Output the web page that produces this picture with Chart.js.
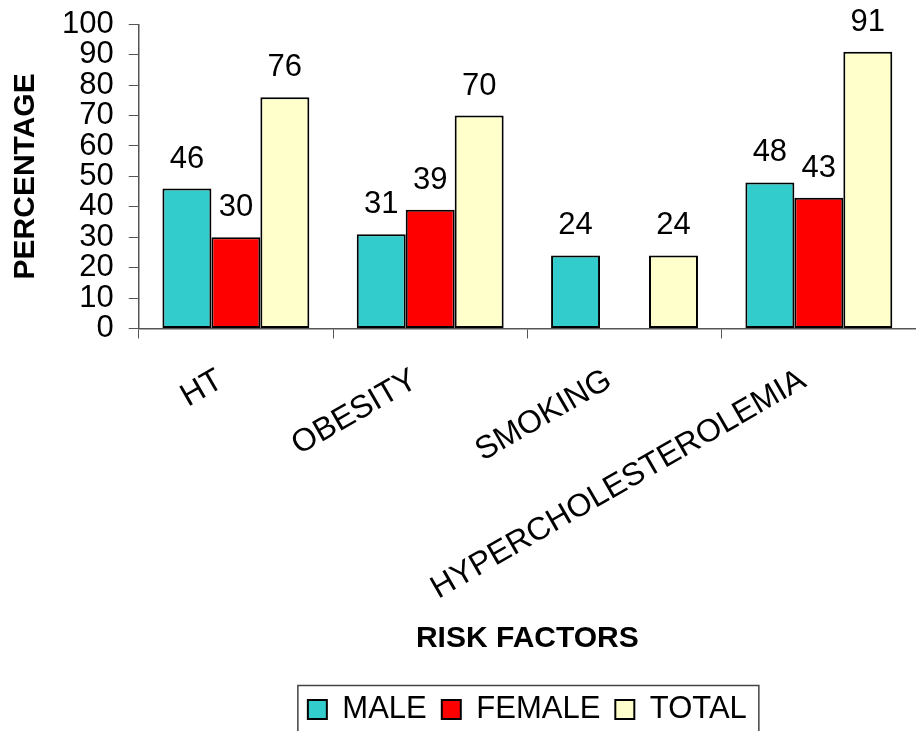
<!DOCTYPE html>
<html>
<head>
<meta charset="utf-8">
<title>Risk factors</title>
<script src="https://cdn.jsdelivr.net/npm/chart.js@4.4.1/dist/chart.umd.min.js"></script>
<style>
    html, body { margin: 0; padding: 0; background: #fff; }
    #wrap { width: 916px; height: 731px; }
</style>
</head>
<body>
<div id="wrap"><canvas id="riskChart" width="916" height="731"></canvas></div>
<script>
'use strict';

var categories   = ['HT', 'OBESITY', 'SMOKING', 'HYPERCHOLESTEROLEMIA'];
var maleValues   = [46, 31, 24, 48];
var femaleValues = [30, 39, null, 43];
var totalValues  = [76, 70, 24, 91];
var seriesNames  = ['MALE', 'FEMALE', 'TOTAL'];

var FONT = "'Liberation Sans', Arial, sans-serif";
var AXIS_COLOR = '#555';

/**
 * Draw the value above each bar.
 */
var valueLabels = {
    id: 'valueLabels',
    afterDatasetsDraw: function(chart) {
        var ctx = chart.ctx;
        ctx.save();
        ctx.font = '31px ' + FONT;
        ctx.fillStyle = '#000';
        ctx.textAlign = 'center';
        ctx.textBaseline = 'alphabetic';
        chart.data.datasets.forEach(function(ds, i) {
            var meta = chart.getDatasetMeta(i);
            meta.data.forEach(function(bar, j) {
                var v = ds.data[j];
                if (v === null || v === undefined) return;
                ctx.fillText(String(v), bar.x, bar.y - 21);
            });
        });
        ctx.restore();
    }
};

/**
 * Frame around the legend, like the original.
 */
var legendFrame = {
    id: 'legendFrame',
    afterDraw: function(chart) {
        var boxes = chart.legend && chart.legend.legendHitBoxes;
        if (!boxes || !boxes.length) return;
        var minX = Infinity, maxX = -Infinity, cy = boxes[0].top + boxes[0].height / 2;
        boxes.forEach(function(b) {
            minX = Math.min(minX, b.left);
            maxX = Math.max(maxX, b.left + b.width);
        });
        var ctx = chart.ctx;
        ctx.save();
        ctx.strokeStyle = '#444';
        ctx.lineWidth = 1.5;
        ctx.strokeRect(minX - 10, cy - 24, (maxX - minX) + 22, 60);
        ctx.restore();
    }
};

function makeDataset(label, data, color) {
    return {
        label: label,
        data: data,
        backgroundColor: color,
        borderColor: '#000',
        borderWidth: 2,
        borderSkipped: false,
        categoryPercentage: 0.756,
        barPercentage: 1.0
    };
}

var ctx = document.getElementById('riskChart').getContext('2d');
var chart = new Chart(ctx, {
    type: 'bar',
    data: {
        labels: categories,
        datasets: [
            makeDataset(seriesNames[0], maleValues, '#33CCCC'),
            makeDataset(seriesNames[1], femaleValues, '#FF0000'),
            makeDataset(seriesNames[2], totalValues, '#FFFFCC')
        ]
    },
    options: {
        responsive: false,
        animation: false,
        layout: { padding: { top: 15, right: 0, bottom: -4, left: 8 } },
        plugins: {
            tooltip: { enabled: false },
            legend: {
                position: 'bottom',
                fullSize: false,
                labels: {
                    color: '#000',
                    font: { family: FONT, size: 31 },
                    boxWidth: 19,
                    boxHeight: 19,
                    padding: 15
                }
            }
        },
        scales: {
            x: {
                grid: {
                    display: true,
                    drawOnChartArea: false,
                    drawTicks: true,
                    tickLength: 10,
                    color: AXIS_COLOR,
                    offset: true
                },
                border: { display: true, color: AXIS_COLOR, width: 1.5 },
                ticks: {
                    color: '#000',
                    font: { family: FONT, size: 32 },
                    minRotation: 30,
                    maxRotation: 30,
                    autoSkip: false,
                    padding: 14,
                    // two trailing spaces pull the rotated text left of the tick, as in the original
                    callback: function(value) {
                        return this.getLabelForValue(value) + '  ';
                    }
                },
                title: {
                    display: true,
                    text: 'RISK FACTORS',
                    color: '#000',
                    font: { family: FONT, size: 30, weight: 'bold' },
                    padding: { top: -1, bottom: 22 }
                }
            },
            y: {
                min: 0,
                max: 100,
                grid: {
                    display: true,
                    drawOnChartArea: false,
                    drawTicks: true,
                    tickLength: 10,
                    color: AXIS_COLOR
                },
                border: { display: true, color: AXIS_COLOR, width: 1.5 },
                ticks: {
                    stepSize: 10,
                    autoSkip: false,
                    color: '#000',
                    font: { family: FONT, size: 31, lineHeight: 0.6 },
                    padding: 15
                },
                title: {
                    display: true,
                    text: 'PERCENTAGE',
                    color: '#000',
                    font: { family: FONT, size: 30, weight: 'bold' },
                    padding: { top: 0, bottom: 3 }
                }
            }
        }
    },
    plugins: [valueLabels, legendFrame]
});
</script>
</body>
</html>
